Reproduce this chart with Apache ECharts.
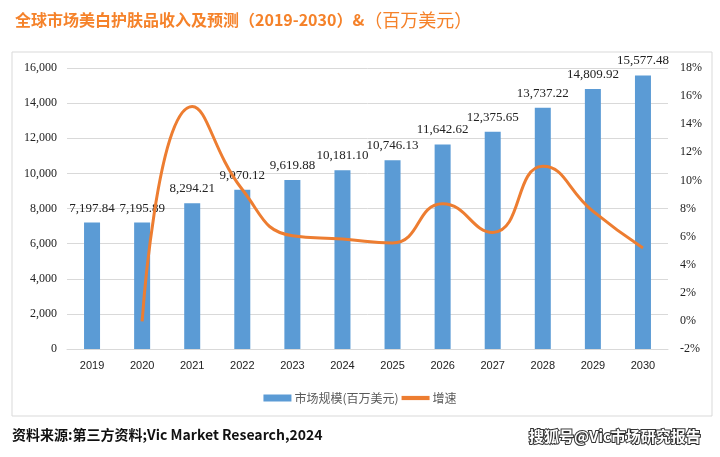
<!DOCTYPE html>
<html><head><meta charset="utf-8">
<script src="https://cdn.jsdelivr.net/npm/echarts@6/dist/echarts.min.js"></script>
<style>html,body{margin:0;padding:0;background:#fff}#c{width:720px;height:457px}</style>
</head><body><div id="c"></div>
<script>
var years = ['2019','2020','2021','2022','2023','2024','2025','2026','2027','2028','2029','2030'];
var marketSize = [7197.84,7195.89,8294.21,9070.12,9619.88,10181.10,10746.13,11642.62,12375.65,13737.22,14809.92,15577.48];
var growth = [null,-0.03,15.26,9.35,6.06,5.83,5.55,8.34,6.30,11.00,7.81,5.18];
var leftTicks = {min:0,max:16000,interval:2000};
var rightTicks = {min:-2,max:18,interval:2};

var chart = echarts.init(document.getElementById('c'));
chart.setOption({
  animation:false,
  backgroundColor:'#fff',
  title:{text:'{a|全球市场美白护肤品收入及预测（2019-2030）&}{b|（百万美元）}',left:10,top:6,
    textStyle:{rich:{
      a:{color:'#f5822a',fontSize:16,fontWeight:'bold',fontFamily:'Noto Sans CJK SC'},
      b:{color:'#f5822a',fontSize:18,fontWeight:'normal',fontFamily:'Noto Sans CJK SC'}}}},
  graphic:[
    {type:'rect',shape:{x:12,y:52,width:700,height:364},style:{fill:'none',stroke:'#d9d9d9',lineWidth:1},z:-1},
    {type:'text',left:12,top:428,style:{text:'资料来源:第三方资料;Vic Market Research,2024',fill:'#111',font:'bold 14px "Noto Sans CJK SC"'}},
    {type:'text',left:528,top:428,style:{text:'搜狐号@Vic市场研究报告',fill:'#fff',stroke:'#333',lineWidth:2,font:'bold 15px "Noto Sans CJK SC"'}}
  ],
  legend:{bottom:48,left:'center',itemGap:3,itemWidth:28,itemHeight:7,
    textStyle:{color:'#595959',fontSize:12,fontFamily:'Noto Sans CJK SC',padding:[0,0,0,-2]},
    data:[{name:'市场规模(百万美元)',icon:'rect'},{name:'增速',icon:'path://M0,0h20v3h-20z'}]},
  grid:{left:67,right:52,top:68,bottom:108,containLabel:false},
  xAxis:{type:'category',data:years,
    axisLine:{lineStyle:{color:'#d9d9d9'}},axisTick:{show:false},
    axisLabel:{color:'#222',fontFamily:'Liberation Sans',fontSize:11,margin:11}},
  yAxis:[
    {type:'value',min:leftTicks.min,max:leftTicks.max,interval:leftTicks.interval,
     axisLine:{show:false},axisTick:{show:false},
     splitLine:{lineStyle:{color:'#d9d9d9'}},
     axisLabel:{color:'#222',fontFamily:'Liberation Serif',fontSize:12,margin:10,
       formatter:function(v){return v.toLocaleString('en-US');}}},
    {type:'value',min:rightTicks.min,max:rightTicks.max,interval:rightTicks.interval,
     axisLine:{show:false},axisTick:{show:false},splitLine:{show:false},
     axisLabel:{color:'#222',fontFamily:'Liberation Serif',fontSize:12,margin:12,formatter:'{value}%'}}
  ],
  series:[
    {name:'市场规模(百万美元)',type:'bar',data:marketSize,barWidth:16,
     itemStyle:{color:'#5b9bd5'},
     label:{show:true,position:'top',distance:8,color:'#222',fontFamily:'Liberation Serif',fontSize:13,
       formatter:function(p){return p.value.toLocaleString('en-US',{minimumFractionDigits:2,maximumFractionDigits:2});}}},
    {name:'增速',type:'line',yAxisIndex:1,data:growth,smooth:0.5,showSymbol:false,symbol:'none',
     lineStyle:{color:'#ed7d31',width:3},itemStyle:{color:'#ed7d31'}}
  ]
});
</script></body></html>
